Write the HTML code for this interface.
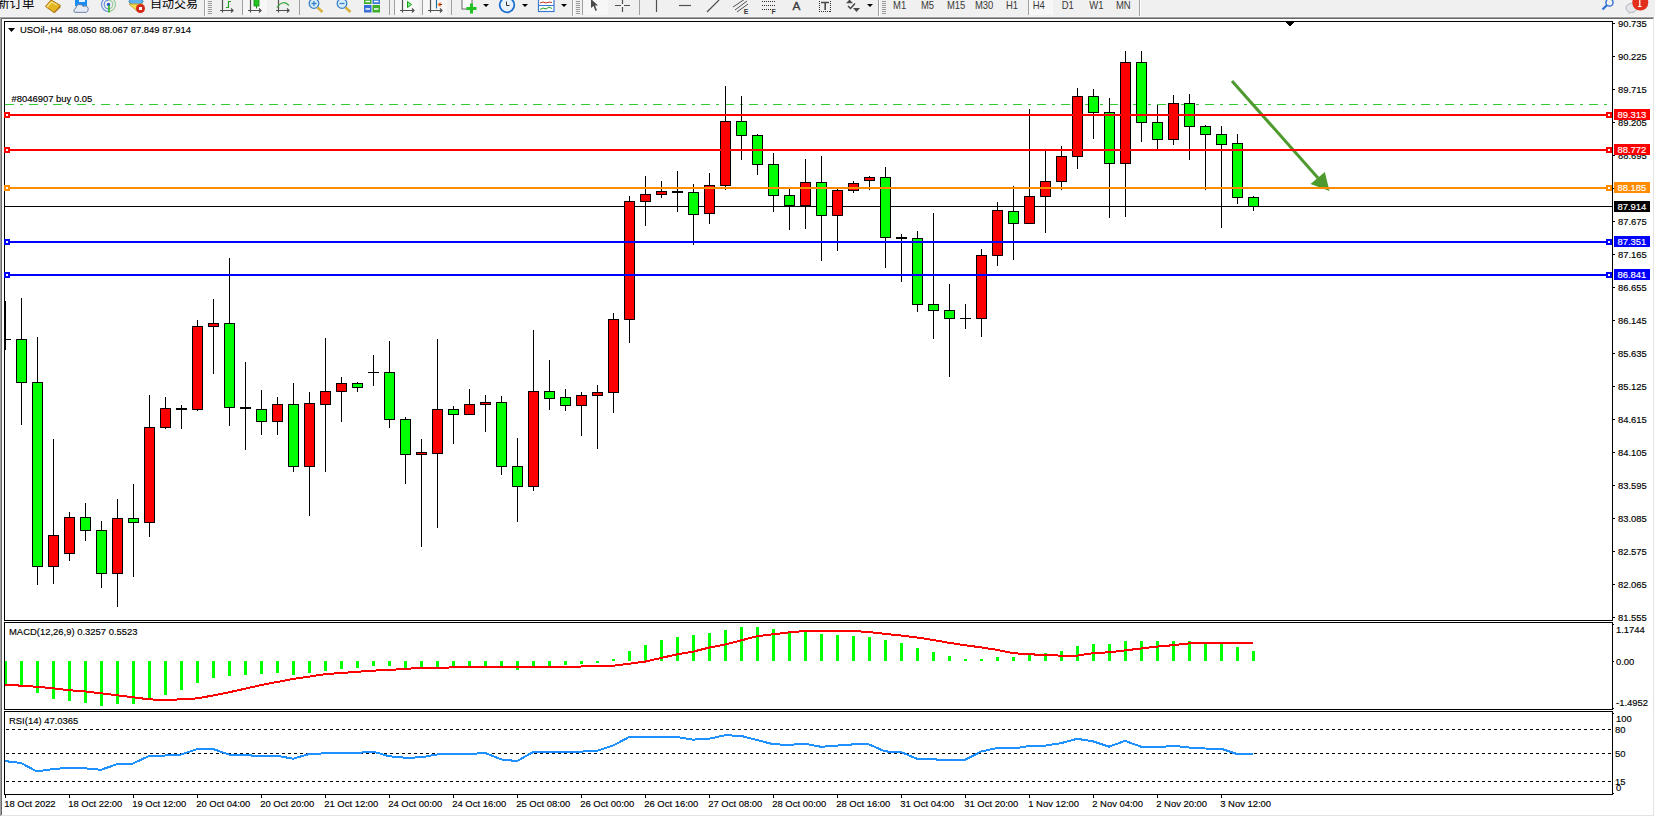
<!DOCTYPE html>
<html lang="zh"><head><meta charset="utf-8"><title>USOil-,H4</title>
<style>html,body{margin:0;padding:0;background:#fff;}body{width:1655px;height:817px;overflow:hidden;position:relative;}svg{position:absolute;left:0;top:0;display:block;}text{font-family:"Liberation Sans","Noto Sans CJK SC",sans-serif;}</style></head><body>
<svg width="1655" height="817" viewBox="0 0 1655 817">
<g id="toolbar">
<rect x="0" y="0" width="1655" height="17" fill="#f0f0f0"/>
<rect x="0" y="16" width="1655" height="1" fill="#f4f4f4"/>
<text x="-3" y="8" font-size="12.5px" fill="#000" style='font-family:"Liberation Sans","Noto Sans CJK SC",sans-serif'>新订单</text>
<path d="M45.5 6.5 L51 0 L60.5 5.5 L54 12.5 Z" fill="#e6b522" stroke="#a8700c" stroke-width="1"/><path d="M54 12.5 L60.5 5.5 L60.5 7.5 L54.5 13.2 Z" fill="#b07a18"/><path d="M47 7 L51.5 2 L57 5" fill="none" stroke="#f8e48a" stroke-width="1.3"/>
<rect x="75" y="-2" width="12" height="8" fill="#1a8cf0"/>
<rect x="79" y="0" width="6" height="2" fill="#e8f4ff"/>
<path d="M74.5 12.3 A2.6 2.6 0 0 1 75.8 8.2 A3.9 3.9 0 0 1 83.2 6.6 A3.1 3.1 0 0 1 88 10.2 A2.4 2.4 0 0 1 86.5 12.3 Z" fill="#e6ebf3" stroke="#6a82a6" stroke-width="1"/>
<path d="M108.5 -2.5 A7 7 0 0 0 108.5 11.5 M108.5 0.2 A4.3 4.3 0 0 0 108.5 8.8" fill="none" stroke="#5a88dc" stroke-width="1.1"/><path d="M108.5 -2.5 A7 7 0 0 1 108.5 11.5 M108.5 0.2 A4.3 4.3 0 0 1 108.5 8.8" fill="none" stroke="#7cc07c" stroke-width="1.1" opacity="0.85"/><circle cx="108.5" cy="4.5" r="1.8" fill="#2a5fd0"/><path d="M109 5V12.5" stroke="#1fae1f" stroke-width="1.5"/>
<ellipse cx="136" cy="1.5" rx="7" ry="3" fill="#5fb4ee" stroke="#2f7fbf" stroke-width="1"/>
<path d="M129 4 L143 4 L138 12 Z" fill="#f3dc56" stroke="#c9a530" stroke-width="1"/>
<circle cx="140.5" cy="8.5" r="4.5" fill="#d42a1a"/>
<rect x="139" y="7" width="3" height="3" fill="#fff"/>
<text x="150" y="8" font-size="12px" fill="#000" style='font-family:"Liberation Sans","Noto Sans CJK SC",sans-serif'>自动交易</text>
<g shape-rendering="crispEdges">
<rect x="204" y="0" width="1" height="16" fill="#a0a0a0"/><rect x="205" y="0" width="1" height="16" fill="#fff"/>
<rect x="242" y="0" width="1" height="15" fill="#a0a0a0"/>
<rect x="299" y="0" width="1" height="15" fill="#a0a0a0"/>
<rect x="389" y="0" width="1" height="15" fill="#a0a0a0"/>
<rect x="422" y="0" width="1" height="15" fill="#a0a0a0"/>
<rect x="451" y="0" width="1" height="15" fill="#a0a0a0"/>
<rect x="572" y="0" width="1" height="16" fill="#a0a0a0"/><rect x="573" y="0" width="1" height="16" fill="#fff"/>
<rect x="582" y="0" width="1" height="15" fill="#a0a0a0"/>
<rect x="639" y="0" width="1" height="15" fill="#a0a0a0"/>
<rect x="878" y="0" width="1" height="16" fill="#a0a0a0"/><rect x="879" y="0" width="1" height="16" fill="#fff"/>
<rect x="1028" y="0" width="1" height="15" fill="#a0a0a0"/>
<rect x="1139" y="0" width="1" height="16" fill="#a0a0a0"/><rect x="1140" y="0" width="1" height="16" fill="#fff"/>
<path d="M208 1.5h4M208 3.5h4M208 5.5h4M208 7.5h4M208 9.5h4M208 11.5h4M208 13.5h4" stroke="#9a9a9a" stroke-width="1"/>
<path d="M576 1.5h4M576 3.5h4M576 5.5h4M576 7.5h4M576 9.5h4M576 11.5h4M576 13.5h4" stroke="#9a9a9a" stroke-width="1"/>
<path d="M882 1.5h4M882 3.5h4M882 5.5h4M882 7.5h4M882 9.5h4M882 11.5h4M882 13.5h4" stroke="#9a9a9a" stroke-width="1"/>
<rect x="243" y="0" width="24" height="15" fill="#f7f7f7"/>
<rect x="395" y="0" width="24" height="15" fill="#f7f7f7"/><rect x="394" y="0" width="1" height="15" fill="#a0a0a0"/>
<rect x="423" y="0" width="24" height="15" fill="#f7f7f7"/>
<rect x="583" y="0" width="25" height="15" fill="#f7f7f7"/>
<rect x="1029" y="0" width="24" height="15" fill="#f7f7f7"/>
</g>
<g fill="none" stroke="#505050" stroke-width="1.2">
<path d="M222.5 0V12.5M220 10.5H233M231 8.5l2 2l-2 2"/>
<path d="M250.5 0V12.5M248 10.5H261M259 8.5l2 2l-2 2"/>
<path d="M278.5 0V12.5M276 10.5H289M287 8.5l2 2l-2 2"/>
<path d="M402.5 0V12.5M400 10.5H414M412 8.5l2 2l-2 2"/>
<path d="M430.5 0V12.5M428 10.5H442M440 8.5l2 2l-2 2"/>
</g>
<path d="M228.5 1V8M228.5 1.5H231M226 7.5H228.5" fill="none" stroke="#22a022" stroke-width="1.2"/>
<rect x="254" y="-1" width="5" height="7" fill="#22c422" stroke="#158a15" stroke-width="0.8"/>
<path d="M256.5 6V8.5" stroke="#158a15" stroke-width="1"/>
<path d="M277 7.5 Q283 -1 289 5.5" fill="none" stroke="#3aa53a" stroke-width="1.2"/>
<path d="M407.5 1.5 L411.5 4.5 L407.5 7.5 Z" fill="#7cf08c" stroke="#13a013" stroke-width="1"/>
<path d="M436.5 0V8.5" stroke="#1f6f9f" stroke-width="1.2"/>
<path d="M437.5 4.5L440.5 2V7Z" fill="#f06010"/><path d="M440 4.5H442" stroke="#8a2000" stroke-width="1.2"/>
<circle cx="314" cy="3.5" r="4.8" fill="#d6ecfb" stroke="#3a82c8" stroke-width="1.3"/>
<path d="M311.5 3.5h5M314 1v5" stroke="#3a82c8" stroke-width="1.3"/>
<path d="M317.5 7.5L322.5 12" stroke="#d8b23a" stroke-width="2.6"/>
<circle cx="342" cy="3.5" r="4.8" fill="#d6ecfb" stroke="#3a82c8" stroke-width="1.3"/>
<path d="M339.5 3.5h5" stroke="#3a82c8" stroke-width="1.3"/>
<path d="M345.5 7.5L350.5 12" stroke="#d8b23a" stroke-width="2.6"/>
<rect x="364" y="-2" width="7.5" height="6" fill="#3cae2a"/>
<rect x="372.5" y="-2" width="7.5" height="6" fill="#3a78d8"/>
<rect x="364" y="5" width="7.5" height="7.5" fill="#3a6fd8"/>
<rect x="372.5" y="5" width="7.5" height="7.5" fill="#3cae2a"/>
<path d="M365.5 1.5h4.5M374 1.5h4.5M365.5 9h4.5M374 9h4.5" stroke="#fff" stroke-width="1.3"/>
<rect x="462" y="-1" width="10" height="10" fill="#fafafa" stroke="#666" stroke-width="1"/>
<path d="M471.5 3.5V13.5M466.5 8.5H476.5" stroke="#20c020" stroke-width="3"/>
<path d="M483 4h6l-3 3z" fill="#000"/>
<circle cx="507" cy="5" r="7.3" fill="#e8f2fb" stroke="#1c6fd0" stroke-width="1.8"/>
<path d="M506.5 1.5V5.5H509.5" stroke="#333" stroke-width="1" fill="none"/>
<path d="M522 4h6l-3 3z" fill="#000"/>
<rect x="538.5" y="-1" width="15.5" height="12.5" fill="#fff" stroke="#3a7ad0" stroke-width="1.2"/>
<path d="M539 5.5H554" stroke="#3a7ad0" stroke-width="1"/>
<path d="M540 3l3-1 3 1 3-1 3 0.5" stroke="#c03020" stroke-width="1" fill="none"/>
<path d="M540 9.5l3-1.5 3 1 3-2 3 1.5" stroke="#20a020" stroke-width="1" fill="none"/>
<path d="M561 4h6l-3 3z" fill="#000"/>
<path d="M591 -1 L591 8 L593.5 6 L595.5 11 L597 10.3 L595 5.5 L598 5.5 Z" fill="#4a4a4a"/>
<path d="M615 5.5h6M624 5.5h6M622.5 0v4M622.5 7v5" stroke="#505050" stroke-width="1.2"/>
<path d="M656.5 0V12" stroke="#505050" stroke-width="1.2"/>
<path d="M679 5.5H691" stroke="#505050" stroke-width="1.2"/>
<path d="M707 12L719 0" stroke="#505050" stroke-width="1.2"/>
<path d="M733 7L745 -1M735 10L747 1M737 12L748 4" stroke="#505050" stroke-width="1"/>
<text x="743.8" y="14" font-size="7px" font-weight="bold" fill="#3a3a3a">E</text>
<path d="M762 1.5h13M762 5.5h13M762 9.5h9" stroke="#303030" stroke-width="1.2" stroke-dasharray="1 1"/>
<text x="771.4" y="14" font-size="7px" font-weight="bold" fill="#3a3a3a">F</text>
<text x="792.6" y="10" font-size="11.8px" fill="#3a3a3a" stroke="#3a3a3a" stroke-width="0.35">A</text>
<path d="M819.5 1V12M830.5 1V12M819 11.5H831" fill="none" stroke="#303030" stroke-width="1" stroke-dasharray="1 1"/>
<path d="M821 2.5H829M825.2 3V10" stroke="#4a4a4a" stroke-width="1.6"/>
<path d="M848 6l2.5 2.5 4.5-5" stroke="#404040" stroke-width="1.4" fill="none"/>
<path d="M846 3.3L849.5 -0.5 853 3.3Z M853 8L860 8 856.5 12Z" fill="#4a4a4a"/>
<path d="M867 4h6l-3 3z" fill="#000"/>
<g font-size="10px" fill="#3a3a3a"><text transform="translate(893.0 9) scale(0.95 1)">M1</text><text transform="translate(920.9000000000001 9) scale(0.95 1)">M5</text><text transform="translate(946.9000000000001 9) scale(0.95 1)">M15</text><text transform="translate(974.9000000000001 9) scale(0.95 1)">M30</text><text transform="translate(1005.9000000000001 9) scale(0.95 1)">H1</text><text transform="translate(1032.7 9) scale(0.95 1)">H4</text><text transform="translate(1061.7 9) scale(0.95 1)">D1</text><text transform="translate(1089.2 9) scale(0.95 1)">W1</text><text transform="translate(1115.9 9) scale(0.95 1)">MN</text></g>
<circle cx="1609.5" cy="2.5" r="3.6" fill="none" stroke="#2f6fd6" stroke-width="1.4"/>
<path d="M1606.8 5.3L1602.5 9.5" stroke="#2f6fd6" stroke-width="2.2"/>
<ellipse cx="1631.5" cy="8" rx="5.5" ry="4.5" fill="#e4e6ea" stroke="#b0b4ba" stroke-width="1"/>
<path d="M1629 12l-1 2.5 3-2" fill="#c0c4ca"/>
<circle cx="1640.3" cy="2.5" r="8" fill="#e2301c"/>
<path d="M1639.8 -2V6.5M1638 6.5h3.6" stroke="#fff" stroke-width="1.2"/>

</g>
<g id="frame" shape-rendering="crispEdges">
<rect x="0" y="17" width="1654" height="1" fill="#a0a0a0"/>
<rect x="1" y="18" width="1652" height="1" fill="#696969"/>
<rect x="0" y="17" width="1" height="799" fill="#a0a0a0"/>
<rect x="1" y="18" width="1" height="797" fill="#696969"/>
<rect x="1653" y="18" width="1" height="798" fill="#e3e3e3"/>
<rect x="1" y="815" width="1653" height="1" fill="#e3e3e3"/>
</g>
<g id="chart" shape-rendering="crispEdges">
<rect x="4" y="21" width="1609" height="1" fill="#000"/>
<rect x="4" y="21" width="1" height="600" fill="#000"/>
<rect x="1612" y="21" width="1" height="600" fill="#000"/>
<rect x="4" y="620" width="1609" height="1" fill="#000"/>
<rect x="4" y="622" width="1609" height="1" fill="#000"/>
<rect x="4" y="622" width="1" height="88" fill="#000"/>
<rect x="1612" y="622" width="1" height="88" fill="#000"/>
<rect x="4" y="709" width="1609" height="1" fill="#000"/>
<rect x="4" y="711" width="1609" height="1" fill="#000"/>
<rect x="4" y="711" width="1" height="84" fill="#000"/>
<rect x="1612" y="711" width="1" height="84" fill="#000"/>
<rect x="4" y="794" width="1609" height="1" fill="#000"/>
<rect x="5" y="206" width="1607" height="1" fill="#000"/>
<path d="M5 104.5h9 M20 104.5h3 M29 104.5h9 M44 104.5h3 M53 104.5h9 M68 104.5h3 M77 104.5h9 M92 104.5h3 M101 104.5h9 M116 104.5h3 M125 104.5h9 M140 104.5h3 M149 104.5h9 M164 104.5h3 M173 104.5h9 M188 104.5h3 M197 104.5h9 M212 104.5h3 M221 104.5h9 M236 104.5h3 M245 104.5h9 M260 104.5h3 M269 104.5h9 M284 104.5h3 M293 104.5h9 M308 104.5h3 M317 104.5h9 M332 104.5h3 M341 104.5h9 M356 104.5h3 M365 104.5h9 M380 104.5h3 M389 104.5h9 M404 104.5h3 M413 104.5h9 M428 104.5h3 M437 104.5h9 M452 104.5h3 M461 104.5h9 M476 104.5h3 M485 104.5h9 M500 104.5h3 M509 104.5h9 M524 104.5h3 M533 104.5h9 M548 104.5h3 M557 104.5h9 M572 104.5h3 M581 104.5h9 M596 104.5h3 M605 104.5h9 M620 104.5h3 M629 104.5h9 M644 104.5h3 M653 104.5h9 M668 104.5h3 M677 104.5h9 M692 104.5h3 M701 104.5h9 M716 104.5h3 M725 104.5h9 M740 104.5h3 M749 104.5h9 M764 104.5h3 M773 104.5h9 M788 104.5h3 M797 104.5h9 M812 104.5h3 M821 104.5h9 M836 104.5h3 M845 104.5h9 M860 104.5h3 M869 104.5h9 M884 104.5h3 M893 104.5h9 M908 104.5h3 M917 104.5h9 M932 104.5h3 M941 104.5h9 M956 104.5h3 M965 104.5h9 M980 104.5h3 M989 104.5h9 M1004 104.5h3 M1013 104.5h9 M1028 104.5h3 M1037 104.5h9 M1052 104.5h3 M1061 104.5h9 M1076 104.5h3 M1085 104.5h9 M1100 104.5h3 M1109 104.5h9 M1124 104.5h3 M1133 104.5h9 M1148 104.5h3 M1157 104.5h9 M1172 104.5h3 M1181 104.5h9 M1196 104.5h3 M1205 104.5h9 M1220 104.5h3 M1229 104.5h9 M1244 104.5h3 M1253 104.5h9 M1268 104.5h3 M1277 104.5h9 M1292 104.5h3 M1301 104.5h9 M1316 104.5h3 M1325 104.5h9 M1340 104.5h3 M1349 104.5h9 M1364 104.5h3 M1373 104.5h9 M1388 104.5h3 M1397 104.5h9 M1412 104.5h3 M1421 104.5h9 M1436 104.5h3 M1445 104.5h9 M1460 104.5h3 M1469 104.5h9 M1484 104.5h3 M1493 104.5h9 M1508 104.5h3 M1517 104.5h9 M1532 104.5h3 M1541 104.5h9 M1556 104.5h3 M1565 104.5h9 M1580 104.5h3 M1589 104.5h9 M1604 104.5h3" stroke="#32cd32" stroke-width="1" fill="none"/>
<rect x="5" y="301" width="1" height="49" fill="#000"/>
<rect x="5" y="339" width="6" height="1" fill="#000"/>
<rect x="21" y="298" width="1" height="127" fill="#000"/><rect x="16" y="339" width="11" height="44" fill="#000"/><rect x="17" y="340" width="9" height="42" fill="#00ff00"/>
<rect x="37" y="337" width="1" height="248" fill="#000"/><rect x="32" y="382" width="11" height="185" fill="#000"/><rect x="33" y="383" width="9" height="183" fill="#00ff00"/>
<rect x="53" y="439" width="1" height="145" fill="#000"/><rect x="48" y="535" width="11" height="32" fill="#000"/><rect x="49" y="536" width="9" height="30" fill="#ff0000"/>
<rect x="69" y="512" width="1" height="49" fill="#000"/><rect x="64" y="517" width="11" height="37" fill="#000"/><rect x="65" y="518" width="9" height="35" fill="#ff0000"/>
<rect x="85" y="503" width="1" height="38" fill="#000"/><rect x="80" y="517" width="11" height="14" fill="#000"/><rect x="81" y="518" width="9" height="12" fill="#00ff00"/>
<rect x="101" y="521" width="1" height="67" fill="#000"/><rect x="96" y="530" width="11" height="44" fill="#000"/><rect x="97" y="531" width="9" height="42" fill="#00ff00"/>
<rect x="117" y="499" width="1" height="108" fill="#000"/><rect x="112" y="518" width="11" height="56" fill="#000"/><rect x="113" y="519" width="9" height="54" fill="#ff0000"/>
<rect x="133" y="484" width="1" height="93" fill="#000"/><rect x="128" y="518" width="11" height="5" fill="#000"/><rect x="129" y="519" width="9" height="3" fill="#00ff00"/>
<rect x="149" y="395" width="1" height="142" fill="#000"/><rect x="144" y="427" width="11" height="96" fill="#000"/><rect x="145" y="428" width="9" height="94" fill="#ff0000"/>
<rect x="165" y="397" width="1" height="32" fill="#000"/><rect x="160" y="408" width="11" height="20" fill="#000"/><rect x="161" y="409" width="9" height="18" fill="#ff0000"/>
<rect x="181" y="405" width="1" height="24" fill="#000"/><rect x="176" y="408" width="11" height="2" fill="#000"/>
<rect x="197" y="320" width="1" height="91" fill="#000"/><rect x="192" y="326" width="11" height="84" fill="#000"/><rect x="193" y="327" width="9" height="82" fill="#ff0000"/>
<rect x="213" y="299" width="1" height="75" fill="#000"/><rect x="208" y="323" width="11" height="4" fill="#000"/><rect x="209" y="324" width="9" height="2" fill="#ff0000"/>
<rect x="229" y="258" width="1" height="168" fill="#000"/><rect x="224" y="323" width="11" height="85" fill="#000"/><rect x="225" y="324" width="9" height="83" fill="#00ff00"/>
<rect x="245" y="362" width="1" height="88" fill="#000"/><rect x="240" y="407" width="11" height="2" fill="#000"/>
<rect x="261" y="390" width="1" height="45" fill="#000"/><rect x="256" y="409" width="11" height="13" fill="#000"/><rect x="257" y="410" width="9" height="11" fill="#00ff00"/>
<rect x="277" y="397" width="1" height="38" fill="#000"/><rect x="272" y="404" width="11" height="18" fill="#000"/><rect x="273" y="405" width="9" height="16" fill="#ff0000"/>
<rect x="293" y="383" width="1" height="89" fill="#000"/><rect x="288" y="404" width="11" height="63" fill="#000"/><rect x="289" y="405" width="9" height="61" fill="#00ff00"/>
<rect x="309" y="392" width="1" height="124" fill="#000"/><rect x="304" y="403" width="11" height="64" fill="#000"/><rect x="305" y="404" width="9" height="62" fill="#ff0000"/>
<rect x="325" y="338" width="1" height="134" fill="#000"/><rect x="320" y="391" width="11" height="14" fill="#000"/><rect x="321" y="392" width="9" height="12" fill="#ff0000"/>
<rect x="341" y="377" width="1" height="45" fill="#000"/><rect x="336" y="383" width="11" height="9" fill="#000"/><rect x="337" y="384" width="9" height="7" fill="#ff0000"/>
<rect x="357" y="382" width="1" height="10" fill="#000"/><rect x="352" y="383" width="11" height="5" fill="#000"/><rect x="353" y="384" width="9" height="3" fill="#00ff00"/>
<rect x="373" y="355" width="1" height="31" fill="#000"/><rect x="368" y="372" width="11" height="1" fill="#000"/>
<rect x="389" y="341" width="1" height="87" fill="#000"/><rect x="384" y="372" width="11" height="48" fill="#000"/><rect x="385" y="373" width="9" height="46" fill="#00ff00"/>
<rect x="405" y="417" width="1" height="67" fill="#000"/><rect x="400" y="419" width="11" height="36" fill="#000"/><rect x="401" y="420" width="9" height="34" fill="#00ff00"/>
<rect x="421" y="439" width="1" height="108" fill="#000"/><rect x="416" y="452" width="11" height="3" fill="#000"/><rect x="417" y="453" width="9" height="1" fill="#ff0000"/>
<rect x="437" y="339" width="1" height="189" fill="#000"/><rect x="432" y="409" width="11" height="45" fill="#000"/><rect x="433" y="410" width="9" height="43" fill="#ff0000"/>
<rect x="453" y="406" width="1" height="38" fill="#000"/><rect x="448" y="409" width="11" height="6" fill="#000"/><rect x="449" y="410" width="9" height="4" fill="#00ff00"/>
<rect x="469" y="389" width="1" height="26" fill="#000"/><rect x="464" y="404" width="11" height="11" fill="#000"/><rect x="465" y="405" width="9" height="9" fill="#ff0000"/>
<rect x="485" y="395" width="1" height="37" fill="#000"/><rect x="480" y="402" width="11" height="3" fill="#000"/><rect x="481" y="403" width="9" height="1" fill="#ff0000"/>
<rect x="501" y="396" width="1" height="79" fill="#000"/><rect x="496" y="402" width="11" height="65" fill="#000"/><rect x="497" y="403" width="9" height="63" fill="#00ff00"/>
<rect x="517" y="438" width="1" height="84" fill="#000"/><rect x="512" y="466" width="11" height="21" fill="#000"/><rect x="513" y="467" width="9" height="19" fill="#00ff00"/>
<rect x="533" y="330" width="1" height="161" fill="#000"/><rect x="528" y="391" width="11" height="96" fill="#000"/><rect x="529" y="392" width="9" height="94" fill="#ff0000"/>
<rect x="549" y="360" width="1" height="50" fill="#000"/><rect x="544" y="391" width="11" height="8" fill="#000"/><rect x="545" y="392" width="9" height="6" fill="#00ff00"/>
<rect x="565" y="389" width="1" height="22" fill="#000"/><rect x="560" y="397" width="11" height="9" fill="#000"/><rect x="561" y="398" width="9" height="7" fill="#00ff00"/>
<rect x="581" y="392" width="1" height="44" fill="#000"/><rect x="576" y="395" width="11" height="11" fill="#000"/><rect x="577" y="396" width="9" height="9" fill="#ff0000"/>
<rect x="597" y="385" width="1" height="64" fill="#000"/><rect x="592" y="392" width="11" height="4" fill="#000"/><rect x="593" y="393" width="9" height="2" fill="#ff0000"/>
<rect x="613" y="313" width="1" height="100" fill="#000"/><rect x="608" y="319" width="11" height="74" fill="#000"/><rect x="609" y="320" width="9" height="72" fill="#ff0000"/>
<rect x="629" y="196" width="1" height="147" fill="#000"/><rect x="624" y="201" width="11" height="119" fill="#000"/><rect x="625" y="202" width="9" height="117" fill="#ff0000"/>
<rect x="645" y="176" width="1" height="50" fill="#000"/><rect x="640" y="194" width="11" height="8" fill="#000"/><rect x="641" y="195" width="9" height="6" fill="#ff0000"/>
<rect x="661" y="181" width="1" height="17" fill="#000"/><rect x="656" y="191" width="11" height="4" fill="#000"/><rect x="657" y="192" width="9" height="2" fill="#ff0000"/>
<rect x="677" y="171" width="1" height="41" fill="#000"/><rect x="672" y="191" width="11" height="2" fill="#000"/>
<rect x="693" y="184" width="1" height="61" fill="#000"/><rect x="688" y="192" width="11" height="23" fill="#000"/><rect x="689" y="193" width="9" height="21" fill="#00ff00"/>
<rect x="709" y="173" width="1" height="51" fill="#000"/><rect x="704" y="185" width="11" height="29" fill="#000"/><rect x="705" y="186" width="9" height="27" fill="#ff0000"/>
<rect x="725" y="86" width="1" height="104" fill="#000"/><rect x="720" y="121" width="11" height="65" fill="#000"/><rect x="721" y="122" width="9" height="63" fill="#ff0000"/>
<rect x="741" y="96" width="1" height="64" fill="#000"/><rect x="736" y="121" width="11" height="15" fill="#000"/><rect x="737" y="122" width="9" height="13" fill="#00ff00"/>
<rect x="757" y="134" width="1" height="41" fill="#000"/><rect x="752" y="135" width="11" height="30" fill="#000"/><rect x="753" y="136" width="9" height="28" fill="#00ff00"/>
<rect x="773" y="153" width="1" height="59" fill="#000"/><rect x="768" y="164" width="11" height="32" fill="#000"/><rect x="769" y="165" width="9" height="30" fill="#00ff00"/>
<rect x="789" y="189" width="1" height="41" fill="#000"/><rect x="784" y="195" width="11" height="11" fill="#000"/><rect x="785" y="196" width="9" height="9" fill="#00ff00"/>
<rect x="805" y="159" width="1" height="70" fill="#000"/><rect x="800" y="182" width="11" height="24" fill="#000"/><rect x="801" y="183" width="9" height="22" fill="#ff0000"/>
<rect x="821" y="156" width="1" height="105" fill="#000"/><rect x="816" y="182" width="11" height="34" fill="#000"/><rect x="817" y="183" width="9" height="32" fill="#00ff00"/>
<rect x="837" y="189" width="1" height="62" fill="#000"/><rect x="832" y="190" width="11" height="26" fill="#000"/><rect x="833" y="191" width="9" height="24" fill="#ff0000"/>
<rect x="853" y="181" width="1" height="12" fill="#000"/><rect x="848" y="183" width="11" height="8" fill="#000"/><rect x="849" y="184" width="9" height="6" fill="#ff0000"/>
<rect x="869" y="176" width="1" height="14" fill="#000"/><rect x="864" y="177" width="11" height="4" fill="#000"/><rect x="865" y="178" width="9" height="2" fill="#ff0000"/>
<rect x="885" y="167" width="1" height="101" fill="#000"/><rect x="880" y="177" width="11" height="61" fill="#000"/><rect x="881" y="178" width="9" height="59" fill="#00ff00"/>
<rect x="901" y="234" width="1" height="48" fill="#000"/><rect x="896" y="237" width="11" height="2" fill="#000"/>
<rect x="917" y="231" width="1" height="81" fill="#000"/><rect x="912" y="238" width="11" height="67" fill="#000"/><rect x="913" y="239" width="9" height="65" fill="#00ff00"/>
<rect x="933" y="213" width="1" height="126" fill="#000"/><rect x="928" y="304" width="11" height="7" fill="#000"/><rect x="929" y="305" width="9" height="5" fill="#00ff00"/>
<rect x="949" y="284" width="1" height="93" fill="#000"/><rect x="944" y="310" width="11" height="9" fill="#000"/><rect x="945" y="311" width="9" height="7" fill="#00ff00"/>
<rect x="965" y="304" width="1" height="25" fill="#000"/><rect x="960" y="318" width="11" height="1" fill="#000"/>
<rect x="981" y="249" width="1" height="88" fill="#000"/><rect x="976" y="255" width="11" height="64" fill="#000"/><rect x="977" y="256" width="9" height="62" fill="#ff0000"/>
<rect x="997" y="202" width="1" height="64" fill="#000"/><rect x="992" y="210" width="11" height="46" fill="#000"/><rect x="993" y="211" width="9" height="44" fill="#ff0000"/>
<rect x="1013" y="186" width="1" height="74" fill="#000"/><rect x="1008" y="211" width="11" height="13" fill="#000"/><rect x="1009" y="212" width="9" height="11" fill="#00ff00"/>
<rect x="1029" y="109" width="1" height="115" fill="#000"/><rect x="1024" y="196" width="11" height="28" fill="#000"/><rect x="1025" y="197" width="9" height="26" fill="#ff0000"/>
<rect x="1045" y="151" width="1" height="82" fill="#000"/><rect x="1040" y="181" width="11" height="16" fill="#000"/><rect x="1041" y="182" width="9" height="14" fill="#ff0000"/>
<rect x="1061" y="146" width="1" height="44" fill="#000"/><rect x="1056" y="156" width="11" height="26" fill="#000"/><rect x="1057" y="157" width="9" height="24" fill="#ff0000"/>
<rect x="1077" y="88" width="1" height="81" fill="#000"/><rect x="1072" y="96" width="11" height="61" fill="#000"/><rect x="1073" y="97" width="9" height="59" fill="#ff0000"/>
<rect x="1093" y="89" width="1" height="50" fill="#000"/><rect x="1088" y="96" width="11" height="17" fill="#000"/><rect x="1089" y="97" width="9" height="15" fill="#00ff00"/>
<rect x="1109" y="98" width="1" height="120" fill="#000"/><rect x="1104" y="112" width="11" height="52" fill="#000"/><rect x="1105" y="113" width="9" height="50" fill="#00ff00"/>
<rect x="1125" y="51" width="1" height="166" fill="#000"/><rect x="1120" y="62" width="11" height="102" fill="#000"/><rect x="1121" y="63" width="9" height="100" fill="#ff0000"/>
<rect x="1141" y="51" width="1" height="91" fill="#000"/><rect x="1136" y="62" width="11" height="61" fill="#000"/><rect x="1137" y="63" width="9" height="59" fill="#00ff00"/>
<rect x="1157" y="105" width="1" height="44" fill="#000"/><rect x="1152" y="122" width="11" height="18" fill="#000"/><rect x="1153" y="123" width="9" height="16" fill="#00ff00"/>
<rect x="1173" y="95" width="1" height="50" fill="#000"/><rect x="1168" y="103" width="11" height="37" fill="#000"/><rect x="1169" y="104" width="9" height="35" fill="#ff0000"/>
<rect x="1189" y="94" width="1" height="66" fill="#000"/><rect x="1184" y="103" width="11" height="24" fill="#000"/><rect x="1185" y="104" width="9" height="22" fill="#00ff00"/>
<rect x="1205" y="125" width="1" height="65" fill="#000"/><rect x="1200" y="126" width="11" height="9" fill="#000"/><rect x="1201" y="127" width="9" height="7" fill="#00ff00"/>
<rect x="1221" y="126" width="1" height="102" fill="#000"/><rect x="1216" y="134" width="11" height="11" fill="#000"/><rect x="1217" y="135" width="9" height="9" fill="#00ff00"/>
<rect x="1237" y="134" width="1" height="70" fill="#000"/><rect x="1232" y="143" width="11" height="55" fill="#000"/><rect x="1233" y="144" width="9" height="53" fill="#00ff00"/>
<rect x="1253" y="196" width="1" height="15" fill="#000"/><rect x="1248" y="197" width="11" height="10" fill="#000"/><rect x="1249" y="198" width="9" height="8" fill="#00ff00"/>
<g id="arrow" shape-rendering="auto">
<line x1="1232" y1="81" x2="1318" y2="178" stroke="#4f9a2e" stroke-width="3"/>
<path d="M1310.5 184 L1324.8 172 L1329.5 191 Z" fill="#4f9a2e"/>
</g>
<rect x="5" y="114" width="1607" height="2" fill="#ff0000"/><rect x="4" y="112" width="6" height="6" fill="#ff0000"/><rect x="6" y="114" width="2" height="2" fill="#fff"/><rect x="1606" y="112" width="6" height="6" fill="#ff0000"/><rect x="1608" y="114" width="2" height="2" fill="#fff"/>
<rect x="5" y="149" width="1607" height="2" fill="#ff0000"/><rect x="4" y="147" width="6" height="6" fill="#ff0000"/><rect x="6" y="149" width="2" height="2" fill="#fff"/><rect x="1606" y="147" width="6" height="6" fill="#ff0000"/><rect x="1608" y="149" width="2" height="2" fill="#fff"/>
<rect x="5" y="187" width="1607" height="2" fill="#ff8c00"/><rect x="4" y="185" width="6" height="6" fill="#ff8c00"/><rect x="6" y="187" width="2" height="2" fill="#fff"/><rect x="1606" y="185" width="6" height="6" fill="#ff8c00"/><rect x="1608" y="187" width="2" height="2" fill="#fff"/>
<rect x="5" y="241" width="1607" height="2" fill="#0000ff"/><rect x="4" y="239" width="6" height="6" fill="#0000ff"/><rect x="6" y="241" width="2" height="2" fill="#fff"/><rect x="1606" y="239" width="6" height="6" fill="#0000ff"/><rect x="1608" y="241" width="2" height="2" fill="#fff"/>
<rect x="5" y="274" width="1607" height="2" fill="#0000ff"/><rect x="4" y="272" width="6" height="6" fill="#0000ff"/><rect x="6" y="274" width="2" height="2" fill="#fff"/><rect x="1606" y="272" width="6" height="6" fill="#0000ff"/><rect x="1608" y="274" width="2" height="2" fill="#fff"/>
<path d="M1285 21h10l-5 6z" fill="#000"/>
</g>
<g id="macd" shape-rendering="crispEdges">
<rect x="5" y="661" width="2" height="24" fill="#00ff00"/>
<rect x="20" y="661" width="3" height="25" fill="#00ff00"/>
<rect x="36" y="661" width="3" height="32" fill="#00ff00"/>
<rect x="52" y="661" width="3" height="38" fill="#00ff00"/>
<rect x="68" y="661" width="3" height="40" fill="#00ff00"/>
<rect x="84" y="661" width="3" height="42" fill="#00ff00"/>
<rect x="100" y="661" width="3" height="45" fill="#00ff00"/>
<rect x="116" y="661" width="3" height="43" fill="#00ff00"/>
<rect x="132" y="661" width="3" height="43" fill="#00ff00"/>
<rect x="148" y="661" width="3" height="39" fill="#00ff00"/>
<rect x="164" y="661" width="3" height="34" fill="#00ff00"/>
<rect x="180" y="661" width="3" height="29" fill="#00ff00"/>
<rect x="196" y="661" width="3" height="22" fill="#00ff00"/>
<rect x="212" y="661" width="3" height="17" fill="#00ff00"/>
<rect x="228" y="661" width="3" height="15" fill="#00ff00"/>
<rect x="244" y="661" width="3" height="14" fill="#00ff00"/>
<rect x="260" y="661" width="3" height="13" fill="#00ff00"/>
<rect x="276" y="661" width="3" height="12" fill="#00ff00"/>
<rect x="292" y="661" width="3" height="14" fill="#00ff00"/>
<rect x="308" y="661" width="3" height="12" fill="#00ff00"/>
<rect x="324" y="661" width="3" height="10" fill="#00ff00"/>
<rect x="340" y="661" width="3" height="8" fill="#00ff00"/>
<rect x="356" y="661" width="3" height="7" fill="#00ff00"/>
<rect x="372" y="661" width="3" height="5" fill="#00ff00"/>
<rect x="388" y="661" width="3" height="5" fill="#00ff00"/>
<rect x="404" y="661" width="3" height="7" fill="#00ff00"/>
<rect x="420" y="661" width="3" height="7" fill="#00ff00"/>
<rect x="436" y="661" width="3" height="6" fill="#00ff00"/>
<rect x="452" y="661" width="3" height="5" fill="#00ff00"/>
<rect x="468" y="661" width="3" height="5" fill="#00ff00"/>
<rect x="484" y="661" width="3" height="5" fill="#00ff00"/>
<rect x="500" y="661" width="3" height="5" fill="#00ff00"/>
<rect x="516" y="661" width="3" height="9" fill="#00ff00"/>
<rect x="532" y="661" width="3" height="5" fill="#00ff00"/>
<rect x="548" y="661" width="3" height="5" fill="#00ff00"/>
<rect x="564" y="661" width="3" height="4" fill="#00ff00"/>
<rect x="580" y="661" width="3" height="3" fill="#00ff00"/>
<rect x="596" y="661" width="3" height="2" fill="#00ff00"/>
<rect x="612" y="659" width="3" height="2" fill="#00ff00"/>
<rect x="628" y="651" width="3" height="10" fill="#00ff00"/>
<rect x="644" y="645" width="3" height="16" fill="#00ff00"/>
<rect x="660" y="640" width="3" height="21" fill="#00ff00"/>
<rect x="676" y="637" width="3" height="24" fill="#00ff00"/>
<rect x="692" y="635" width="3" height="26" fill="#00ff00"/>
<rect x="708" y="633" width="3" height="28" fill="#00ff00"/>
<rect x="724" y="630" width="3" height="31" fill="#00ff00"/>
<rect x="740" y="627" width="3" height="34" fill="#00ff00"/>
<rect x="756" y="627" width="3" height="34" fill="#00ff00"/>
<rect x="772" y="629" width="3" height="32" fill="#00ff00"/>
<rect x="788" y="631" width="3" height="30" fill="#00ff00"/>
<rect x="804" y="632" width="3" height="29" fill="#00ff00"/>
<rect x="820" y="634" width="3" height="27" fill="#00ff00"/>
<rect x="836" y="635" width="3" height="26" fill="#00ff00"/>
<rect x="852" y="636" width="3" height="25" fill="#00ff00"/>
<rect x="868" y="637" width="3" height="24" fill="#00ff00"/>
<rect x="884" y="640" width="3" height="21" fill="#00ff00"/>
<rect x="900" y="643" width="3" height="18" fill="#00ff00"/>
<rect x="916" y="648" width="3" height="13" fill="#00ff00"/>
<rect x="932" y="652" width="3" height="9" fill="#00ff00"/>
<rect x="948" y="656" width="3" height="5" fill="#00ff00"/>
<rect x="964" y="659" width="3" height="2" fill="#00ff00"/>
<rect x="980" y="659" width="3" height="2" fill="#00ff00"/>
<rect x="996" y="657" width="3" height="4" fill="#00ff00"/>
<rect x="1012" y="657" width="3" height="4" fill="#00ff00"/>
<rect x="1028" y="654" width="3" height="7" fill="#00ff00"/>
<rect x="1044" y="653" width="3" height="8" fill="#00ff00"/>
<rect x="1060" y="651" width="3" height="10" fill="#00ff00"/>
<rect x="1076" y="646" width="3" height="15" fill="#00ff00"/>
<rect x="1092" y="644" width="3" height="17" fill="#00ff00"/>
<rect x="1108" y="644" width="3" height="17" fill="#00ff00"/>
<rect x="1124" y="641" width="3" height="20" fill="#00ff00"/>
<rect x="1140" y="641" width="3" height="20" fill="#00ff00"/>
<rect x="1156" y="641" width="3" height="20" fill="#00ff00"/>
<rect x="1172" y="641" width="3" height="20" fill="#00ff00"/>
<rect x="1188" y="641" width="3" height="20" fill="#00ff00"/>
<rect x="1204" y="643" width="3" height="18" fill="#00ff00"/>
<rect x="1220" y="643" width="3" height="18" fill="#00ff00"/>
<rect x="1236" y="647" width="3" height="14" fill="#00ff00"/>
<rect x="1252" y="651" width="3" height="10" fill="#00ff00"/>
<polyline points="5,685 21,685.6 37,686.8 53,688.2 69,690.2 85,691.4 101,693.3 117,695.2 133,697.2 149,699.4 165,699.8 181,699.4 197,698.4 213,695.5 229,692.3 245,688.7 261,685.1 277,682 293,679 309,676.6 325,674.2 341,673 357,671.8 373,670.6 389,670.1 405,668.7 421,668.2 437,667.8 453,667.4 469,667 485,667 501,666.8 517,666.8 533,666.6 549,666.5 565,666.5 581,666.5 597,666.2 613,665.8 629,663.8 645,661.6 661,658 677,654.4 693,651.7 709,647.6 725,644.5 741,640.4 757,636.3 773,634.3 789,632.4 805,631 821,631 837,631 853,631 869,632 885,633.9 901,635.5 917,637.5 933,639.9 949,642.8 965,645.2 981,647.4 997,649.8 1013,653.2 1029,654.2 1045,655.1 1061,655.6 1077,655.6 1093,653.2 1109,652.3 1125,650.4 1141,648.5 1157,646.6 1173,645.2 1189,643.4 1205,643 1221,643 1237,643 1253,643" fill="none" stroke="#ff0000" stroke-width="2"/>
</g>
<g id="rsi" shape-rendering="crispEdges">
<path d="M6 729.5H1611" stroke="#000" stroke-width="1" stroke-dasharray="3 3" fill="none"/>
<path d="M6 753.5H1611" stroke="#000" stroke-width="1" stroke-dasharray="3 3" fill="none"/>
<path d="M6 781.5H1611" stroke="#000" stroke-width="1" stroke-dasharray="3 3" fill="none"/>
<polyline points="5,761.1 21,763 37,771.5 53,769 69,767.8 85,768.3 101,769.8 117,764.2 133,763.5 149,756 165,755.5 181,754.5 197,749.2 213,749 229,754.5 245,755.3 261,755.8 277,755.8 293,758.7 309,754.1 325,753.3 341,752.9 357,752.9 373,751.6 389,756.2 405,757.7 421,757.4 437,754.5 453,754.1 469,754.1 485,752.9 501,759.4 517,761.1 533,752.1 549,752.1 565,752.1 581,751.6 597,750.9 613,745.6 629,737.1 645,736.7 661,736.7 677,737.1 693,739.6 709,738.8 725,735.2 741,735.9 757,740 773,744.2 789,744.9 805,743.7 821,746.8 837,745.6 853,744.4 869,744.4 885,751.4 901,752.1 917,758.7 933,759.4 949,759.9 965,759.9 981,751.6 997,748 1013,748.5 1029,746.1 1045,745.6 1061,743.2 1077,738.8 1093,741.3 1109,746.7 1125,740.9 1141,746.7 1157,747.5 1173,745.8 1189,747.5 1205,748.5 1221,748.7 1237,754 1253,754.3" fill="none" stroke="#1e90ff" stroke-width="2"/>
</g>
<g id="axis" shape-rendering="crispEdges">
<rect x="1613" y="23" width="2" height="1" fill="#000"/>
<rect x="1613" y="56" width="2" height="1" fill="#000"/>
<rect x="1613" y="89" width="2" height="1" fill="#000"/>
<rect x="1613" y="122" width="2" height="1" fill="#000"/>
<rect x="1613" y="155" width="2" height="1" fill="#000"/>
<rect x="1613" y="188" width="2" height="1" fill="#000"/>
<rect x="1613" y="221" width="2" height="1" fill="#000"/>
<rect x="1613" y="254" width="2" height="1" fill="#000"/>
<rect x="1613" y="287" width="2" height="1" fill="#000"/>
<rect x="1613" y="320" width="2" height="1" fill="#000"/>
<rect x="1613" y="353" width="2" height="1" fill="#000"/>
<rect x="1613" y="386" width="2" height="1" fill="#000"/>
<rect x="1613" y="419" width="2" height="1" fill="#000"/>
<rect x="1613" y="452" width="2" height="1" fill="#000"/>
<rect x="1613" y="485" width="2" height="1" fill="#000"/>
<rect x="1613" y="518" width="2" height="1" fill="#000"/>
<rect x="1613" y="551" width="2" height="1" fill="#000"/>
<rect x="1613" y="584" width="2" height="1" fill="#000"/>
<rect x="1613" y="617" width="2" height="1" fill="#000"/>
<rect x="1613" y="624" width="1" height="1" fill="#000"/>
<rect x="1613" y="661" width="1" height="1" fill="#000"/>
<rect x="1613" y="708" width="1" height="1" fill="#000"/>
<rect x="1613" y="713" width="1" height="1" fill="#000"/>
<rect x="1613" y="793" width="1" height="1" fill="#000"/>
<rect x="5" y="795" width="1" height="3" fill="#000"/>
<rect x="69" y="795" width="1" height="3" fill="#000"/>
<rect x="133" y="795" width="1" height="3" fill="#000"/>
<rect x="197" y="795" width="1" height="3" fill="#000"/>
<rect x="261" y="795" width="1" height="3" fill="#000"/>
<rect x="325" y="795" width="1" height="3" fill="#000"/>
<rect x="389" y="795" width="1" height="3" fill="#000"/>
<rect x="453" y="795" width="1" height="3" fill="#000"/>
<rect x="517" y="795" width="1" height="3" fill="#000"/>
<rect x="581" y="795" width="1" height="3" fill="#000"/>
<rect x="645" y="795" width="1" height="3" fill="#000"/>
<rect x="709" y="795" width="1" height="3" fill="#000"/>
<rect x="773" y="795" width="1" height="3" fill="#000"/>
<rect x="837" y="795" width="1" height="3" fill="#000"/>
<rect x="901" y="795" width="1" height="3" fill="#000"/>
<rect x="965" y="795" width="1" height="3" fill="#000"/>
<rect x="1029" y="795" width="1" height="3" fill="#000"/>
<rect x="1093" y="795" width="1" height="3" fill="#000"/>
<rect x="1157" y="795" width="1" height="3" fill="#000"/>
<rect x="1221" y="795" width="1" height="3" fill="#000"/>
</g>
<g id="labels">
<text transform="translate(1618 27) scale(0.984 1)" font-size="9.6px" fill="#000" stroke="#000" stroke-width="0.15" style="white-space:pre">90.735</text>
<text transform="translate(1618 60) scale(0.984 1)" font-size="9.6px" fill="#000" stroke="#000" stroke-width="0.15" style="white-space:pre">90.225</text>
<text transform="translate(1618 93) scale(0.984 1)" font-size="9.6px" fill="#000" stroke="#000" stroke-width="0.15" style="white-space:pre">89.715</text>
<text transform="translate(1618 126) scale(0.984 1)" font-size="9.6px" fill="#000" stroke="#000" stroke-width="0.15" style="white-space:pre">89.205</text>
<text transform="translate(1618 159) scale(0.984 1)" font-size="9.6px" fill="#000" stroke="#000" stroke-width="0.15" style="white-space:pre">88.695</text>
<text transform="translate(1618 192) scale(0.984 1)" font-size="9.6px" fill="#000" stroke="#000" stroke-width="0.15" style="white-space:pre">88.185</text>
<text transform="translate(1618 225) scale(0.984 1)" font-size="9.6px" fill="#000" stroke="#000" stroke-width="0.15" style="white-space:pre">87.675</text>
<text transform="translate(1618 258) scale(0.984 1)" font-size="9.6px" fill="#000" stroke="#000" stroke-width="0.15" style="white-space:pre">87.165</text>
<text transform="translate(1618 291) scale(0.984 1)" font-size="9.6px" fill="#000" stroke="#000" stroke-width="0.15" style="white-space:pre">86.655</text>
<text transform="translate(1618 324) scale(0.984 1)" font-size="9.6px" fill="#000" stroke="#000" stroke-width="0.15" style="white-space:pre">86.145</text>
<text transform="translate(1618 357) scale(0.984 1)" font-size="9.6px" fill="#000" stroke="#000" stroke-width="0.15" style="white-space:pre">85.635</text>
<text transform="translate(1618 390) scale(0.984 1)" font-size="9.6px" fill="#000" stroke="#000" stroke-width="0.15" style="white-space:pre">85.125</text>
<text transform="translate(1618 423) scale(0.984 1)" font-size="9.6px" fill="#000" stroke="#000" stroke-width="0.15" style="white-space:pre">84.615</text>
<text transform="translate(1618 456) scale(0.984 1)" font-size="9.6px" fill="#000" stroke="#000" stroke-width="0.15" style="white-space:pre">84.105</text>
<text transform="translate(1618 489) scale(0.984 1)" font-size="9.6px" fill="#000" stroke="#000" stroke-width="0.15" style="white-space:pre">83.595</text>
<text transform="translate(1618 522) scale(0.984 1)" font-size="9.6px" fill="#000" stroke="#000" stroke-width="0.15" style="white-space:pre">83.085</text>
<text transform="translate(1618 555) scale(0.984 1)" font-size="9.6px" fill="#000" stroke="#000" stroke-width="0.15" style="white-space:pre">82.575</text>
<text transform="translate(1618 588) scale(0.984 1)" font-size="9.6px" fill="#000" stroke="#000" stroke-width="0.15" style="white-space:pre">82.065</text>
<text transform="translate(1618 621) scale(0.984 1)" font-size="9.6px" fill="#000" stroke="#000" stroke-width="0.15" style="white-space:pre">81.555</text>
<text transform="translate(1616 633) scale(0.984 1)" font-size="9.6px" fill="#000" stroke="#000" stroke-width="0.15" style="white-space:pre">1.1744</text>
<text transform="translate(1616 665) scale(0.984 1)" font-size="9.6px" fill="#000" stroke="#000" stroke-width="0.15" style="white-space:pre">0.00</text>
<text transform="translate(1616 706) scale(0.984 1)" font-size="9.6px" fill="#000" stroke="#000" stroke-width="0.15" style="white-space:pre">-1.4952</text>
<text transform="translate(1616 722) scale(0.984 1)" font-size="9.6px" fill="#000" stroke="#000" stroke-width="0.15" style="white-space:pre">100</text>
<text transform="translate(1615 733) scale(0.984 1)" font-size="9.6px" fill="#000" stroke="#000" stroke-width="0.15" style="white-space:pre">80</text>
<text transform="translate(1615 757) scale(0.984 1)" font-size="9.6px" fill="#000" stroke="#000" stroke-width="0.15" style="white-space:pre">50</text>
<text transform="translate(1615 785) scale(0.984 1)" font-size="9.6px" fill="#000" stroke="#000" stroke-width="0.15" style="white-space:pre">15</text>
<text transform="translate(1616 791) scale(0.984 1)" font-size="9.6px" fill="#000" stroke="#000" stroke-width="0.15" style="white-space:pre">0</text>
<text transform="translate(4.2 807) scale(0.984 1)" font-size="9.6px" fill="#000" stroke="#000" stroke-width="0.15" style="white-space:pre">18 Oct 2022</text>
<text transform="translate(68.2 807) scale(0.984 1)" font-size="9.6px" fill="#000" stroke="#000" stroke-width="0.15" style="white-space:pre">18 Oct 22:00</text>
<text transform="translate(132.2 807) scale(0.984 1)" font-size="9.6px" fill="#000" stroke="#000" stroke-width="0.15" style="white-space:pre">19 Oct 12:00</text>
<text transform="translate(196.2 807) scale(0.984 1)" font-size="9.6px" fill="#000" stroke="#000" stroke-width="0.15" style="white-space:pre">20 Oct 04:00</text>
<text transform="translate(260.2 807) scale(0.984 1)" font-size="9.6px" fill="#000" stroke="#000" stroke-width="0.15" style="white-space:pre">20 Oct 20:00</text>
<text transform="translate(324.2 807) scale(0.984 1)" font-size="9.6px" fill="#000" stroke="#000" stroke-width="0.15" style="white-space:pre">21 Oct 12:00</text>
<text transform="translate(388.2 807) scale(0.984 1)" font-size="9.6px" fill="#000" stroke="#000" stroke-width="0.15" style="white-space:pre">24 Oct 00:00</text>
<text transform="translate(452.2 807) scale(0.984 1)" font-size="9.6px" fill="#000" stroke="#000" stroke-width="0.15" style="white-space:pre">24 Oct 16:00</text>
<text transform="translate(516.2 807) scale(0.984 1)" font-size="9.6px" fill="#000" stroke="#000" stroke-width="0.15" style="white-space:pre">25 Oct 08:00</text>
<text transform="translate(580.2 807) scale(0.984 1)" font-size="9.6px" fill="#000" stroke="#000" stroke-width="0.15" style="white-space:pre">26 Oct 00:00</text>
<text transform="translate(644.2 807) scale(0.984 1)" font-size="9.6px" fill="#000" stroke="#000" stroke-width="0.15" style="white-space:pre">26 Oct 16:00</text>
<text transform="translate(708.2 807) scale(0.984 1)" font-size="9.6px" fill="#000" stroke="#000" stroke-width="0.15" style="white-space:pre">27 Oct 08:00</text>
<text transform="translate(772.2 807) scale(0.984 1)" font-size="9.6px" fill="#000" stroke="#000" stroke-width="0.15" style="white-space:pre">28 Oct 00:00</text>
<text transform="translate(836.2 807) scale(0.984 1)" font-size="9.6px" fill="#000" stroke="#000" stroke-width="0.15" style="white-space:pre">28 Oct 16:00</text>
<text transform="translate(900.2 807) scale(0.984 1)" font-size="9.6px" fill="#000" stroke="#000" stroke-width="0.15" style="white-space:pre">31 Oct 04:00</text>
<text transform="translate(964.2 807) scale(0.984 1)" font-size="9.6px" fill="#000" stroke="#000" stroke-width="0.15" style="white-space:pre">31 Oct 20:00</text>
<text transform="translate(1028.2 807) scale(0.984 1)" font-size="9.6px" fill="#000" stroke="#000" stroke-width="0.15" style="white-space:pre">1 Nov 12:00</text>
<text transform="translate(1092.2 807) scale(0.984 1)" font-size="9.6px" fill="#000" stroke="#000" stroke-width="0.15" style="white-space:pre">2 Nov 04:00</text>
<text transform="translate(1156.2 807) scale(0.984 1)" font-size="9.6px" fill="#000" stroke="#000" stroke-width="0.15" style="white-space:pre">2 Nov 20:00</text>
<text transform="translate(1220.2 807) scale(0.984 1)" font-size="9.6px" fill="#000" stroke="#000" stroke-width="0.15" style="white-space:pre">3 Nov 12:00</text>
<path d="M8 28h7l-3.5 4z" fill="#000"/>
<text transform="translate(20 33) scale(0.984 1)" font-size="9.6px" fill="#000" stroke="#000" stroke-width="0.15" style="white-space:pre">USOil-,H4  88.050 88.067 87.849 87.914</text>
<text transform="translate(11.5 102) scale(0.984 1)" font-size="9.6px" fill="#000" stroke="#000" stroke-width="0.15" style="white-space:pre">#8046907 buy 0.05</text>
<text transform="translate(9 635) scale(0.984 1)" font-size="9.6px" fill="#000" stroke="#000" stroke-width="0.15" style="white-space:pre">MACD(12,26,9) 0.3257 0.5523</text>
<text transform="translate(9 724) scale(0.984 1)" font-size="9.6px" fill="#000" stroke="#000" stroke-width="0.15" style="white-space:pre">RSI(14) 47.0365</text>
<rect x="1614" y="109" width="36" height="11" fill="#ff0000" shape-rendering="crispEdges"/><text transform="translate(1617.5 118) scale(0.984 1)" font-size="9.6px" fill="#fff" stroke="#fff" stroke-width="0.15" style="white-space:pre">89.313</text>
<rect x="1614" y="144" width="36" height="11" fill="#ff0000" shape-rendering="crispEdges"/><text transform="translate(1617.5 153) scale(0.984 1)" font-size="9.6px" fill="#fff" stroke="#fff" stroke-width="0.15" style="white-space:pre">88.772</text>
<rect x="1614" y="182" width="36" height="11" fill="#ff8c00" shape-rendering="crispEdges"/><text transform="translate(1617.5 191) scale(0.984 1)" font-size="9.6px" fill="#fff" stroke="#fff" stroke-width="0.15" style="white-space:pre">88.185</text>
<rect x="1614" y="201" width="36" height="11" fill="#000000" shape-rendering="crispEdges"/><text transform="translate(1617.5 210) scale(0.984 1)" font-size="9.6px" fill="#fff" stroke="#fff" stroke-width="0.15" style="white-space:pre">87.914</text>
<rect x="1614" y="236" width="36" height="11" fill="#0000ff" shape-rendering="crispEdges"/><text transform="translate(1617.5 245) scale(0.984 1)" font-size="9.6px" fill="#fff" stroke="#fff" stroke-width="0.15" style="white-space:pre">87.351</text>
<rect x="1614" y="269" width="36" height="11" fill="#0000ff" shape-rendering="crispEdges"/><text transform="translate(1617.5 278) scale(0.984 1)" font-size="9.6px" fill="#fff" stroke="#fff" stroke-width="0.15" style="white-space:pre">86.841</text>
</g>
</svg>
</body></html>
